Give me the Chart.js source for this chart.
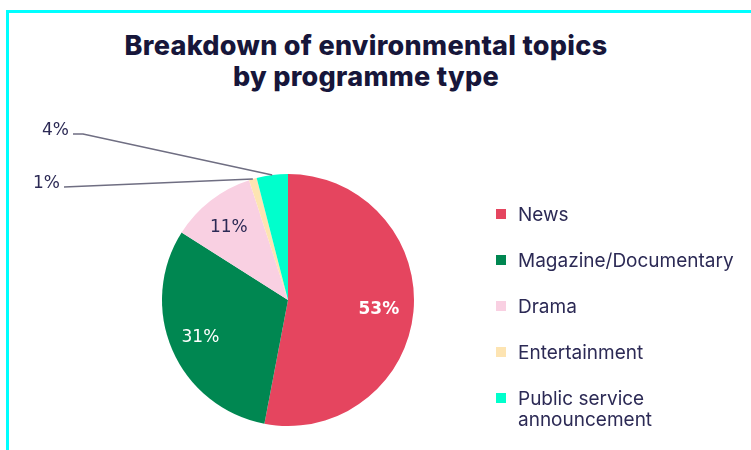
<!DOCTYPE html>
<html lang="en">
<head>
    <meta charset="UTF-8">
    <script src="https://cdn.jsdelivr.net/npm/chart.js@4.4.1/dist/chart.umd.min.js"></script>
    <title>Environmental topics by programme type</title>
    <style>
        html, body { margin: 0; padding: 0; background: #fff; }
        body { width: 751px; height: 450px; position: relative; overflow: hidden; }
        .frame {
            position: absolute; left: 6px; top: 10px; width: 800px; height: 500px;
            border-top: 3px solid #00ffff; border-left: 3px solid #00ffff;
        }
        #pieChart { position: absolute; left: 0; top: 0; }
        .title {
            position: absolute; left: 0; top: 30px; width: 732px; margin: 0;
            text-align: center; font-family: Inter, sans-serif; font-weight: 800;
            font-size: 27px; line-height: 31px; color: #17163a; letter-spacing: 0.3px;
        }
        .legend {
            position: absolute; left: 496px; top: 204px; margin: 0; padding: 0; list-style: none;
            font-family: Inter, sans-serif; font-size: 19px; line-height: 21px; color: #2c2a55;
        }
        .legend li { display: flex; align-items: flex-start; margin-bottom: 25px; }
        .legend .box { width: 10px; height: 10px; margin-top: 5px; margin-right: 12px; flex: none; }
    </style>
</head>
<body>
    <div class="frame"></div>
    <h2 class="title">Breakdown of environmental topics<br>by programme type</h2>
    <canvas id="pieChart" width="751" height="450"></canvas>
    <ul class="legend" id="legend"></ul>

    <script>
        const programmeTypes = ['News', 'Magazine/Documentary', 'Drama', 'Entertainment', 'Public service announcement'];
        const shares = [53, 31, 11, 1, 4];
        const sliceColors = ['#e5455f', '#008751', '#f9d0e2', '#fde4b2', '#00ffcc'];

        // percentage labels: inside the big slices, on leader lines for the small ones
        const sliceLabels = {
            id: 'sliceLabels',
            afterDatasetsDraw(chart, args, opts) {
                const ctx = chart.ctx;
                const arcs = chart.getDatasetMeta(0).data;
                ctx.save();
                arcs.forEach((arc, i) => {
                    const p = arc.getProps(['x', 'y', 'startAngle', 'endAngle', 'outerRadius'], true);
                    const mid = (p.startAngle + p.endAngle) / 2;
                    const text = chart.data.datasets[0].data[i] + '%';
                    const callout = opts.callouts[i];
                    if (callout) {
                        const sx = p.x + Math.cos(mid) * p.outerRadius;
                        const sy = p.y + Math.sin(mid) * p.outerRadius;
                        ctx.strokeStyle = '#6f6e82';
                        ctx.lineWidth = 1.5;
                        ctx.beginPath();
                        ctx.moveTo(sx, sy);
                        callout.forEach(pt => ctx.lineTo(pt[0], pt[1]));
                        ctx.stroke();
                        const end = callout[callout.length - 1];
                        ctx.font = '17px "DejaVu Sans"';
                        ctx.fillStyle = '#2c2a55';
                        ctx.textAlign = 'right';
                        ctx.textBaseline = 'middle';
                        ctx.fillText(text, end[0] - 4, end[1] - 3);
                    } else {
                        const r = p.outerRadius * 0.74;
                        ctx.font = (i === 0 ? 'bold ' : '') + '17px "DejaVu Sans"';
                        ctx.fillStyle = opts.colors[i];
                        ctx.textAlign = 'center';
                        ctx.textBaseline = 'middle';
                        ctx.fillText(text, p.x + Math.cos(mid) * r - 2, p.y + Math.sin(mid) * r + 1);
                    }
                });
                ctx.restore();
            }
        };

        const chart = new Chart(document.getElementById('pieChart'), {
            type: 'pie',
            data: {
                labels: programmeTypes,
                datasets: [{
                    data: shares,
                    backgroundColor: sliceColors,
                    borderWidth: 0
                }]
            },
            options: {
                responsive: false,
                animation: false,
                layout: { padding: { left: 162, top: 174, right: 337, bottom: 24 } },
                plugins: {
                    legend: { display: false },
                    tooltip: { enabled: false },
                    sliceLabels: {
                        colors: ['#ffffff', '#ffffff', '#2c2a55'],
                        callouts: {
                            3: [[64, 187]],
                            4: [[83, 134], [73, 134]]
                        }
                    }
                }
            },
            plugins: [sliceLabels]
        });

        // legend rows built from the chart's own labels and colours
        const legendEl = document.getElementById('legend');
        chart.data.labels.forEach((name, i) => {
            const li = document.createElement('li');
            const box = document.createElement('span');
            box.className = 'box';
            box.style.background = chart.data.datasets[0].backgroundColor[i];
            const label = document.createElement('span');
            label.textContent = name === 'Public service announcement' ? 'Public service\nannouncement' : name;
            label.style.whiteSpace = 'pre-line';
            li.appendChild(box);
            li.appendChild(label);
            legendEl.appendChild(li);
        });
    </script>
</body>
</html>
